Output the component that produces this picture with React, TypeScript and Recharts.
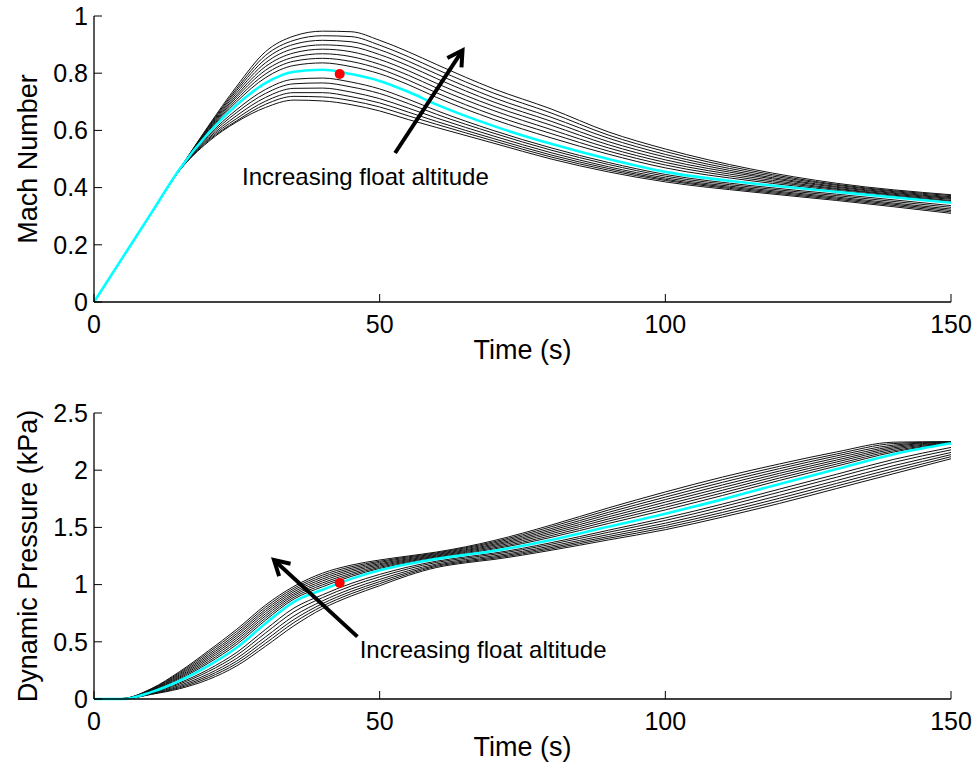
import { LineChart, Line, XAxis, YAxis, ReferenceDot, ReferenceLine } from 'recharts'

const FONT = '"Liberation Sans", Arial, Helvetica, sans-serif'

// ---- Mach number vs time ----
const timeMach = [0, 5, 10, 15, 20, 25, 30, 35, 40, 45, 50, 55, 60, 70, 80, 90, 100, 115, 130, 150]

// black runs, highest float altitude first
const machCurves = [
  [0, .155, .31, .465, .615, .755, .875, .930, .947, .945, .915, .875, .830, .745, .675, .595, .535, .465, .415, .375],
  [0, .155, .31, .465, .612, .747, .862, .915, .931, .928, .898, .858, .813, .730, .661, .584, .526, .459, .411, .372],
  [0, .155, .31, .465, .609, .740, .849, .901, .915, .910, .882, .842, .797, .714, .646, .573, .516, .453, .408, .368],
  [0, .155, .31, .465, .606, .732, .836, .886, .899, .893, .865, .826, .781, .699, .632, .561, .507, .447, .404, .365],
  [0, .155, .31, .465, .603, .724, .823, .871, .884, .875, .848, .809, .764, .684, .618, .550, .497, .442, .401, .362],
  [0, .155, .31, .465, .600, .717, .810, .856, .868, .858, .831, .793, .748, .669, .603, .539, .488, .436, .397, .359],
  [0, .155, .31, .465, .597, .709, .797, .842, .852, .841, .815, .776, .731, .653, .589, .528, .479, .430, .394, .355],
  [0, .155, .31, .465, .594, .701, .784, .827, .836, .823, .798, .760, .715, .638, .574, .517, .469, .424, .390, .352],
  [0, .155, .31, .464, .582, .673, .743, .779, .783, .769, .745, .709, .669, .599, .539, .488, .446, .407, .377, .337],
  [0, .155, .31, .463, .577, .663, .729, .763, .766, .752, .729, .694, .656, .590, .531, .481, .440, .402, .372, .331],
  [0, .155, .31, .462, .572, .652, .715, .747, .748, .734, .711, .678, .643, .580, .522, .473, .434, .397, .367, .325],
  [0, .155, .31, .461, .568, .642, .702, .732, .732, .718, .696, .664, .631, .571, .514, .467, .429, .393, .363, .320],
  [0, .155, .31, .461, .564, .634, .691, .719, .717, .704, .682, .651, .621, .563, .507, .461, .425, .389, .359, .315],
  [0, .155, .31, .460, .560, .630, .680, .706, .703, .690, .668, .638, .610, .555, .500, .455, .420, .385, .355, .310],
]

// nominal run (cyan)
const machNominal = [0, .155, .31, .465, .590, .690, .765, .805, .812, .797, .773, .735, .690, .615, .553, .500, .455, .415, .385, .347]

// ---- Dynamic pressure vs time ----
const timeQ = [0, 5, 10, 15, 20, 25, 30, 35, 40, 45, 50, 55, 60, 65, 70, 80, 90, 100, 110, 120, 130, 140, 150]

const qCurves = [
  [0, .005, .090, .240, .420, .610, .820, .985, 1.100, 1.170, 1.215, 1.250, 1.285, 1.330, 1.385, 1.520, 1.670, 1.810, 1.940, 2.055, 2.160, 2.245, 2.250],
  [0, .004, .086, .231, .405, .591, .801, .969, 1.083, 1.156, 1.204, 1.242, 1.278, 1.322, 1.374, 1.505, 1.651, 1.788, 1.917, 2.034, 2.142, 2.233, 2.248],
  [0, .004, .083, .221, .389, .572, .782, .953, 1.066, 1.142, 1.194, 1.234, 1.271, 1.314, 1.364, 1.489, 1.631, 1.765, 1.894, 2.014, 2.125, 2.220, 2.246],
  [0, .003, .079, .212, .374, .554, .764, .937, 1.049, 1.128, 1.183, 1.225, 1.264, 1.305, 1.353, 1.474, 1.612, 1.743, 1.871, 1.993, 2.107, 2.208, 2.245],
  [0, .003, .076, .202, .359, .535, .745, .921, 1.032, 1.114, 1.173, 1.217, 1.257, 1.297, 1.343, 1.459, 1.592, 1.721, 1.848, 1.973, 2.089, 2.196, 2.243],
  [0, .002, .072, .193, .344, .516, .726, .906, 1.015, 1.099, 1.162, 1.209, 1.250, 1.289, 1.332, 1.444, 1.573, 1.698, 1.825, 1.953, 2.072, 2.184, 2.241],
  [0, .002, .069, .184, .328, .497, .707, .890, .998, 1.085, 1.151, 1.201, 1.243, 1.281, 1.321, 1.428, 1.554, 1.676, 1.802, 1.932, 2.054, 2.171, 2.239],
  [0, .001, .065, .174, .313, .478, .688, .874, .981, 1.071, 1.141, 1.192, 1.236, 1.272, 1.311, 1.413, 1.534, 1.653, 1.779, 1.911, 2.036, 2.159, 2.238],
  [0, 0, .055, .142, .258, .408, .607, .795, .911, 1.010, 1.089, 1.154, 1.205, 1.242, 1.275, 1.366, 1.475, 1.583, 1.704, 1.835, 1.965, 2.095, 2.199],
  [0, 0, .052, .131, .240, .383, .576, .762, .886, .987, 1.068, 1.138, 1.194, 1.231, 1.264, 1.352, 1.457, 1.561, 1.680, 1.809, 1.939, 2.069, 2.178],
  [0, 0, .048, .119, .219, .356, .542, .726, .858, .962, 1.045, 1.121, 1.181, 1.219, 1.251, 1.337, 1.437, 1.537, 1.654, 1.780, 1.910, 2.040, 2.155],
  [0, 0, .045, .108, .202, .332, .513, .695, .834, .940, 1.026, 1.106, 1.170, 1.208, 1.240, 1.324, 1.420, 1.517, 1.631, 1.755, 1.885, 2.015, 2.136],
  [0, 0, .043, .099, .186, .311, .486, .668, .812, .920, 1.008, 1.093, 1.160, 1.199, 1.230, 1.312, 1.405, 1.498, 1.610, 1.732, 1.862, 1.992, 2.118],
  [0, 0, .040, .090, .170, .290, .460, .640, .790, .900, .990, 1.080, 1.150, 1.190, 1.220, 1.300, 1.390, 1.480, 1.590, 1.710, 1.840, 1.970, 2.100],
]

const qNominal = [0, 0, .060, .160, .290, .450, .660, .850, .955, 1.050, 1.125, 1.180, 1.225, 1.260, 1.295, 1.390, 1.505, 1.620, 1.745, 1.880, 2.010, 2.140, 2.235]

// red marker on the nominal run
const markerTime = 43
const markerMach = 0.797
const markerQ = 1.015

// ticks
const timeTicks = [0, 50, 100, 150]
const machTicks = [0, 0.2, 0.4, 0.6, 0.8, 1]
const qTicks = [0, 0.5, 1, 1.5, 2, 2.5]

// annotation arrows (tail -> head) and text anchors, data coords
const machArrow = [{ x: 52.7, y: 0.521 }, { x: 64.5, y: 0.88 }]
const machNote = { x: 47.5, y: 0.409 }
const qArrow = [{ x: 46.1, y: 0.545 }, { x: 31.5, y: 1.215 }]
const qNote = { x: 46.5, y: 0.358 }
const noteText = 'Increasing float altitude'

function buildRows(times: number[], curves: number[][], nominal: number[]) {
  return times.map((t, i) => {
    const row: Record<string, number> = { t, nominal: nominal[i] }
    curves.forEach((c, k) => {
      row['c' + k] = c[i]
    })
    return row
  })
}

const machRows = buildRows(timeMach, machCurves, machNominal)
const qRows = buildRows(timeQ, qCurves, qNominal)

function Arrow(props: any) {
  const { x1, y1, x2, y2 } = props
  const ang = Math.atan2(y2 - y1, x2 - x1)
  const len = 17
  const spread = 0.52
  const ax = x2 + len * Math.cos(ang + Math.PI - spread)
  const ay = y2 + len * Math.sin(ang + Math.PI - spread)
  const bx = x2 + len * Math.cos(ang + Math.PI + spread)
  const by = y2 + len * Math.sin(ang + Math.PI + spread)
  const sx = x2 - 3 * Math.cos(ang)
  const sy = y2 - 3 * Math.sin(ang)
  return (
    <g>
      <line x1={x1} y1={y1} x2={sx} y2={sy} stroke='#000' strokeWidth={4} />
      <polyline
        points={`${ax},${ay} ${x2},${y2} ${bx},${by}`}
        fill='none'
        stroke='#000'
        strokeWidth={4}
      />
    </g>
  )
}

function Note(props: any) {
  const { cx, cy, anchor } = props
  return (
    <text x={cx} y={cy} textAnchor={anchor} fontSize={24} fontFamily={FONT} fill='#000'>
      {noteText}
    </text>
  )
}

function YTitle(props: any) {
  const { viewBox, text } = props
  const x = viewBox.x + 28
  const y = viewBox.y + viewBox.height / 2
  return (
    <text
      x={x}
      y={y}
      transform={`rotate(-90, ${x}, ${y})`}
      textAnchor='middle'
      dominantBaseline='central'
      fontSize={27}
      fontFamily={FONT}
      fill='#000'
    >
      {text}
    </text>
  )
}

function XTitle(props: any) {
  const { viewBox, text, dy } = props
  return (
    <text
      x={viewBox.x + viewBox.width / 2}
      y={viewBox.y + dy}
      textAnchor='middle'
      fontSize={27}
      fontFamily={FONT}
      fill='#000'
    >
      {text}
    </text>
  )
}

const tickStyle = { fontSize: 25, fill: '#000', fontFamily: FONT }
const axisStyle = { stroke: '#000', strokeWidth: 1.3 }

type PanelProps = {
  rows: Record<string, number>[]
  curves: number[][]
  yTicks: number[]
  yMax: number
  yTitle: string
  height: number
  top: number
  xAxisHeight: number
  marker: number
  arrow: { x: number; y: number }[]
  note: { x: number; y: number }
  noteAnchor: string
}

function Panel(p: PanelProps) {
  return (
    <LineChart
      width={979}
      height={p.height}
      data={p.rows}
      margin={{ top: p.top, right: 28, bottom: 0, left: 0 }}
    >
      <XAxis
        dataKey='t'
        type='number'
        domain={[0, 150]}
        ticks={timeTicks}
        tick={tickStyle}
        tickSize={-8}
        tickMargin={21}
        axisLine={axisStyle}
        tickLine={{ stroke: '#000' }}
        height={p.xAxisHeight}
        label={<XTitle text='Time (s)' dy={57} />}
      />
      <XAxis
        xAxisId='top'
        orientation='top'
        dataKey='t'
        type='number'
        domain={[0, 150]}
        ticks={timeTicks}
        tick={false}
        tickSize={-8}
        axisLine={axisStyle}
        tickLine={{ stroke: '#000' }}
        height={0}
      />
      <YAxis
        type='number'
        domain={[0, p.yMax]}
        ticks={p.yTicks}
        tick={tickStyle}
        tickSize={-8}
        tickMargin={14}
        axisLine={axisStyle}
        tickLine={{ stroke: '#000' }}
        width={94}
        label={<YTitle text={p.yTitle} />}
      />
      <YAxis
        yAxisId='right'
        orientation='right'
        type='number'
        domain={[0, p.yMax]}
        ticks={p.yTicks}
        tick={false}
        tickSize={-8}
        axisLine={axisStyle}
        tickLine={{ stroke: '#000' }}
        width={0}
      />
      {p.curves.map((_, k) => (
        <Line
          key={k}
          dataKey={'c' + k}
          type='monotone'
          stroke='#111'
          strokeWidth={1}
          dot={false}
          activeDot={false}
          isAnimationActive={false}
        />
      ))}
      <Line
        dataKey='nominal'
        type='monotone'
        stroke='#00ffff'
        strokeWidth={2.6}
        dot={false}
        activeDot={false}
        isAnimationActive={false}
      />
      <ReferenceDot x={markerTime} y={p.marker} r={5} fill='#ff0000' stroke='none' />
      <ReferenceLine segment={p.arrow} shape={<Arrow />} ifOverflow='visible' />
      <ReferenceDot
        x={p.note.x}
        y={p.note.y}
        r={0}
        ifOverflow='visible'
        shape={(props: any) => <Note {...props} anchor={p.noteAnchor} />}
      />
    </LineChart>
  )
}

export default function App() {
  return (
    <div
      style={{
        position: 'absolute',
        left: 0,
        top: 0,
        width: 979,
        height: 769,
        background: '#fff',
        fontFamily: FONT,
      }}
    >
      <Panel
        rows={machRows}
        curves={machCurves}
        yTicks={machTicks}
        yMax={1}
        yTitle='Mach Number'
        height={380}
        top={16}
        xAxisHeight={78}
        marker={markerMach}
        arrow={machArrow}
        note={machNote}
        noteAnchor='middle'
      />
      <Panel
        rows={qRows}
        curves={qCurves}
        yTicks={qTicks}
        yMax={2.5}
        yTitle='Dynamic Pressure (kPa)'
        height={389}
        top={33}
        xAxisHeight={70}
        marker={markerQ}
        arrow={qArrow}
        note={qNote}
        noteAnchor='start'
      />
    </div>
  )
}
